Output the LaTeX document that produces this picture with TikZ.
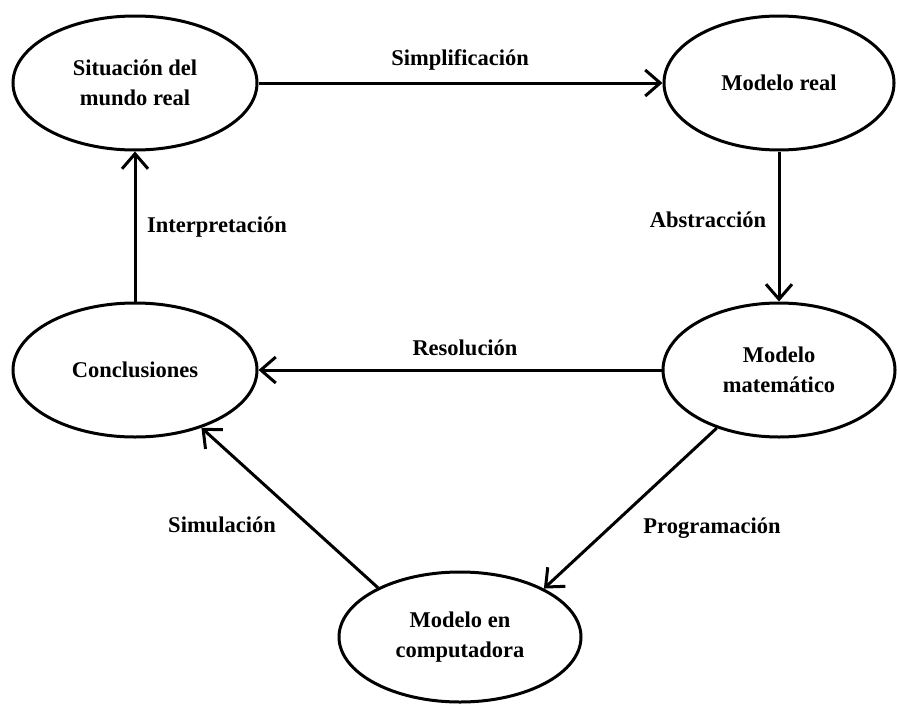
\documentclass[tikz,border=0pt]{standalone}
\usepackage{fontspec}
\setmainfont{Liberation Serif}
\usetikzlibrary{shapes.geometric,arrows.meta}
\begin{document}
\begin{tikzpicture}[x=1pt,y=-1pt,
  stage/.style={ellipse,draw,line width=3pt,inner sep=0pt,align=center,
    font=\fontsize{22.5}{30}\selectfont\bfseries},
  flow/.style={line width=3pt,-{Straight Barb[length=15pt,width=26pt,line width=3pt]}},
  tag/.style={font=\fontsize{22.5}{30}\selectfont\bfseries}]
\useasboundingbox (0,0) rectangle (897,704);

% stages of the modelling cycle
\node[stage,minimum width=244pt,minimum height=134pt] (sit)  at (135,83)  {Situación del\\mundo real};
\node[stage,minimum width=230pt,minimum height=134pt] (real) at (779,83)  {Modelo real};
\node[stage,minimum width=244pt,minimum height=134pt] (conc) at (135,370) {Conclusiones};
\node[stage,minimum width=232pt,minimum height=134pt] (mat)  at (779,370) {Modelo\\matemático};
\node[stage,minimum width=242pt,minimum height=130pt] (comp) at (460,637) {Modelo en\\computadora};

% transitions
\draw[flow] (sit.east) -- (real.west);
\draw[flow] (real.south) -- (mat.north);
\draw[flow] (mat.west) -- (conc.east);
\draw[flow] (conc.north) -- (sit.south);
\draw[flow] (mat.-137) -- (comp.30.5);
\draw[flow] (comp.149.5) -- (conc.-41);

% transition labels
\node[tag] (lsimp) at (460,60)  {Simplificación};
\node[tag] (labs)  at (708,220) {Abstracción};
\node[tag] (lint)  at (217,227) {Interpretación};
\node[tag] (lres)  at (465,348) {Resolución};
\node[tag] (lsim)  at (222,525) {Simulación};
\node[tag] (lprog) at (712,528) {Programación};
\end{tikzpicture}
\end{document}
